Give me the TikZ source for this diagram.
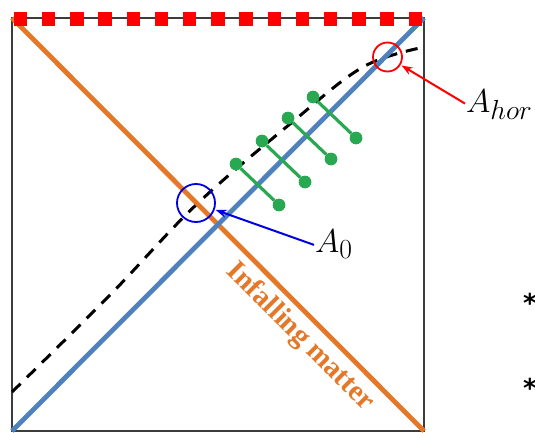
\documentclass[tikz,border=0pt]{standalone}
\usepackage{graphicx}
\usepackage{fontspec}
\newfontfamily\tnr{Liberation Serif}
\newfontfamily\djv{DejaVu Sans}
\usetikzlibrary{arrows.meta}
\definecolor{morange}{RGB}{228,120,40}
\definecolor{mblue}{RGB}{79,129,189}
\definecolor{mgreen}{RGB}{40,168,80}
\definecolor{cblue}{RGB}{0,0,225}
\definecolor{framegray}{RGB}{60,60,60}
\newcommand{\biglbl}[1]{\scalebox{1.33}{\Huge$#1$}}
\begin{document}
\begin{tikzpicture}[x=1pt,y=1pt,
  frame/.style={draw=framegray,line width=1.4pt},
  worldline/.style={line width=4.8pt},
  sq/.style={fill=red,draw=none,minimum size=13.5pt,inner sep=0pt},
  dot/.style={circle,fill=mgreen,draw=none,minimum size=12.5pt,inner sep=0pt},
  rung/.style={draw=mgreen,line width=3.2pt},
  ring/.style={circle,draw,line width=1.8pt,inner sep=0pt},
  lbl/.style={inner sep=1pt},
  pointer/.style={line width=2pt,-{Stealth[length=11pt,width=8pt]},shorten >=1pt},
  star/.style={inner sep=0pt,anchor=base,font=\djv\bfseries\fontsize{26}{26}\selectfont}]
\useasboundingbox (0,0) rectangle (535,432);
% frame
\coordinate (bl) at (12,1);
\coordinate (br) at (424,1);
\coordinate (tl) at (12,414);
\coordinate (tr) at (424,414);
\draw[frame] (bl) rectangle (tr);
% apparent horizon (dashed)
\draw[black,line width=3pt,dash pattern=on 12pt off 9pt]
  plot[smooth,tension=0.6] coordinates {(12,40) (110,137) (197,228) (290,308) (363,365) (425,385)};
% infalling matter and horizon
\draw[worldline,morange] (tl) -- (br);
\draw[worldline,mblue] (bl) -- (tr);
% green rungs
\foreach \i/\x/\y in {1/236/268, 2/262/291, 3/288/314, 4/313/335}{
  \node[dot] (ga\i) at (\x,\y) {};
  \node[dot] (gb\i) at (\x+43,\y-41) {};
  \draw[rung] (ga\i) -- (gb\i);
  \node[dot] at (ga\i) {};
  \node[dot] at (gb\i) {};
}
% singularity (red squares)
\foreach \i in {0,...,14}{
  \node[sq] (s\i) at ({20.5+28.2*\i},413) {};
}
% circles
\node[ring,draw=cblue,minimum size=38pt] (c0) at (196,229) {};
\node[ring,draw=red,minimum size=29pt] (ch) at (387.5,375) {};
% labels
\node[lbl,anchor=base west] (a0) at (314,180) {\biglbl{A_0}};
\node[lbl,anchor=base west] (ah) at (465,320) {\biglbl{A_{hor}}};
\draw[pointer,cblue] ([yshift=-1pt]a0.west) -- (c0);
\draw[pointer,red] ([yshift=1pt]ah.west) -- (ch);
% text along infalling matter
\node[anchor=base,rotate=-45,text=morange,inner sep=0pt,
  font=\tnr\bfseries\fontsize{29}{29}\selectfont] (im) at (295,90) {Infalling matter};
% bullets cut off at the right edge
\node[star] (st1) at (530,120) {*};
\node[star] (st2) at (530,35) {*};
\end{tikzpicture}
\end{document}
